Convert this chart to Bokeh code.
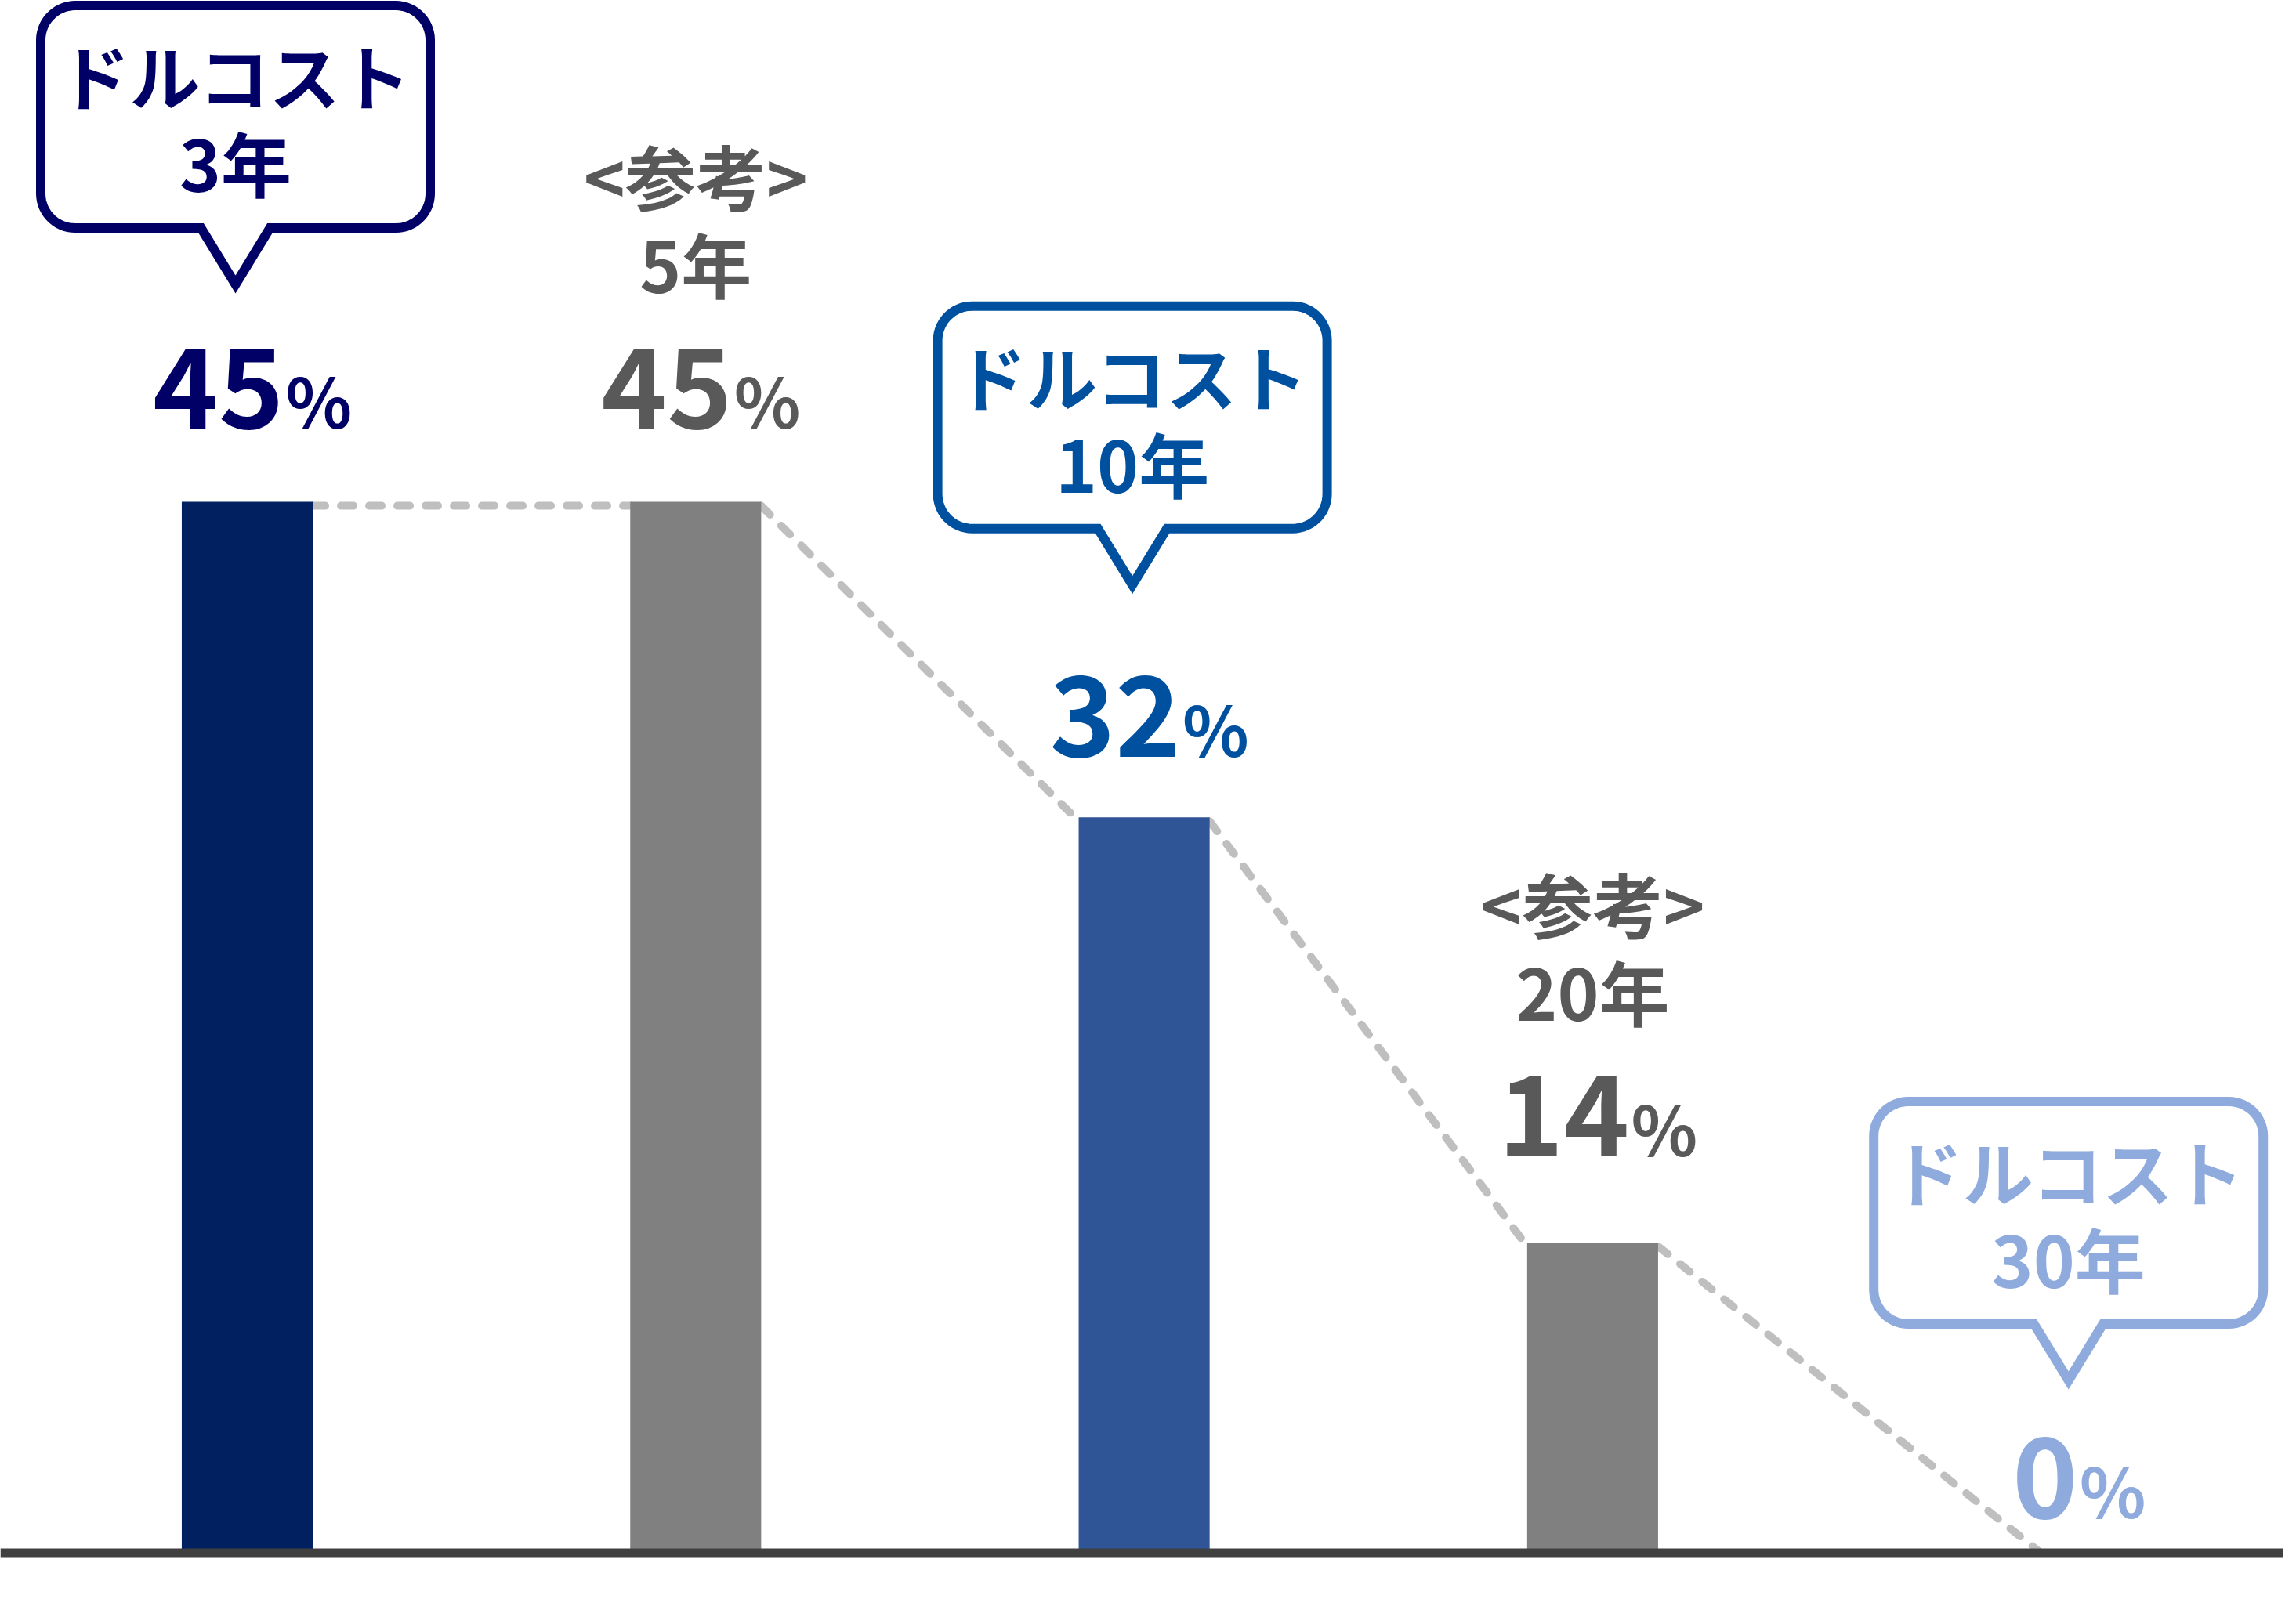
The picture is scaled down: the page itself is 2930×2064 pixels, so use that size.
import numpy as np
from bokeh.plotting import figure
from bokeh.models import Range1d, Span, ColumnDataSource
from bokeh.embed import file_html
from bokeh.resources import INLINE
from bokeh.core.properties import value

# ---------------- data ----------------
periods = ["3年", "5年", "10年", "20年", "30年"]
is_reference = [False, True, False, True, False]
bar_pct = [45, 45, 31.5, 13.3, 0]            # bar heights as drawn
label_pct = ["45", "45", "32", "14", "0"]    # printed values
callout_head = "ドルコスト"
reference_head = "<参考>"

# ---------------- style ----------------
bar_colors = ["#002060", "#808080", "#2F5597", "#808080", "#8FAADC"]
accent = ["#000066", "#595959", "#0050A0", "#595959", "#8FAADC"]
DASH_COLOR = "#BFBFBF"
AXIS_COLOR = "#404040"
FONT = value("Noto Sans CJK JP")

W, H = 2914, 2048
SX = 572.3      # px per category step
SY = 29.82      # px per percentage point
BAR_W = 0.292
x_start = -315 / SX
y_start = -66 / SY

# label layout (pixels)
num_gap_px = [92, 92, 76, 108, 43]        # bar top -> number baseline
callout_gap_px = [174, 0, 209, 0, 166]    # number baseline -> callout tip
callout_dx_px = [-15, 0, -15, 0, 35]      # callout centre shift
NUM_DX = 47
BIG_FIX = -54    # baseline correction for 142px text
SMALL_FIX = -40  # baseline correction for ~90px text
DASH_DROP = 5    # connector sits just under the bar tops

p = figure(width=W, height=H,
           x_range=Range1d(x_start, x_start + W / SX),
           y_range=Range1d(y_start, y_start + H / SY),
           x_axis_type=None, y_axis_type=None,
           output_backend="svg", toolbar_location=None,
           min_border=0, min_border_left=0, min_border_right=0,
           min_border_top=0, min_border_bottom=0)
p.grid.visible = False
p.outline_line_color = None
p.background_fill_color = "white"
p.border_fill_color = "white"

idx = list(range(len(periods)))

# dashed connectors between bar tops
xs, ys = [], []
for i in range(len(idx) - 1):
    x0 = idx[i] + BAR_W / 2
    x1 = idx[i + 1] - (BAR_W / 2 if bar_pct[i + 1] > 0 else 0)
    xs.append([x0, x1])
    ys.append([bar_pct[i] - DASH_DROP / SY,
               max(bar_pct[i + 1] - DASH_DROP / SY, 0)])
p.multi_line(xs, ys, line_color=DASH_COLOR, line_width=10,
             line_dash="16 20", line_cap="round")

# bars
src = ColumnDataSource(dict(x=idx, top=bar_pct, color=bar_colors))
p.vbar(x="x", top="top", bottom=0, width=BAR_W, fill_color="color",
       line_color=None, source=src)

# baseline axis
p.add_layout(Span(location=0, dimension="width", line_color=AXIS_COLOR,
                  line_width=12))

# value labels
num_y = [bar_pct[i] + num_gap_px[i] / SY for i in idx]
num_x = [i + NUM_DX / SX for i in idx]
lab = ColumnDataSource(dict(x=num_x, y=num_y, t=label_pct,
                            pct=["%"] * len(idx), c=accent))
p.text(x="x", y="y", text="t", text_color="c", source=lab,
       text_font=FONT, text_font_style="bold", text_font_size=value("142px"),
       text_align="right", text_baseline="alphabetic", y_offset=BIG_FIX)
p.text(x="x", y="y", text="pct", text_color="c", source=lab,
       text_font=FONT, text_font_style="bold", text_font_size=value("88px"),
       text_align="left", text_baseline="alphabetic", x_offset=2,
       y_offset=SMALL_FIX)

# reference headers
for i in idx:
    if is_reference[i]:
        p.text(x=[i, i], y=[num_y[i] + 174 / SY, num_y[i] + 286 / SY],
               text=[periods[i], reference_head], text_color=accent[i],
               text_font=FONT, text_font_style="bold",
               text_font_size=value("90px"), text_align="center",
               text_baseline="alphabetic", y_offset=SMALL_FIX)

# callouts
def callout_path():
    hw, yb, yt, r, tb = 248.5, 72, 356, 44, 44
    pts = [(0, 0), (tb, yb)]
    def arc(cx, cy, a0, a1):
        a = np.radians(np.linspace(a0, a1, 16))
        return list(zip(cx + r * np.cos(a), cy + r * np.sin(a)))
    pts += arc(hw - r, yb + r, -90, 0)
    pts += arc(hw - r, yt - r, 0, 90)
    pts += arc(-hw + r, yt - r, 90, 180)
    pts += arc(-hw + r, yb + r, 180, 270)
    pts.append((-tb, yb))
    return np.array(pts)

path = callout_path()
for i in idx:
    if not is_reference[i]:
        cx = i + callout_dx_px[i] / SX
        vy = num_y[i] + (callout_gap_px[i] + 11.5) / SY
        px = cx + path[:, 0] / SX
        py = vy + path[:, 1] / SY
        p.patch(px, py, fill_color="white", line_color=accent[i],
                line_width=12, line_join="miter")
        p.text(x=[cx, cx], y=[vy + 228 / SY, vy + 117 / SY],
               text=[callout_head, periods[i]], text_color=accent[i],
               text_font=FONT, text_font_style="bold",
               text_font_size=value("90px"), text_align="center",
               text_baseline="alphabetic", y_offset=SMALL_FIX)

open("out.html", "w").write(file_html(p, INLINE))
